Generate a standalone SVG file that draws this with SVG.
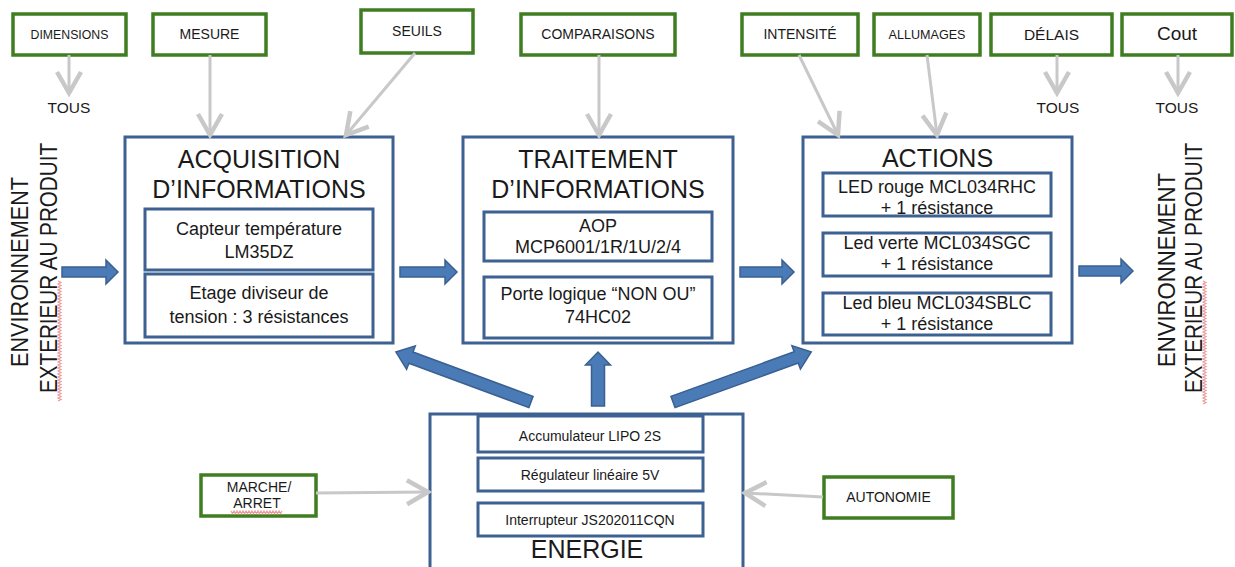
<svg xmlns="http://www.w3.org/2000/svg" width="1235" height="567" viewBox="0 0 1235 567">
  <style>
    text { font-family: "Liberation Sans", Arial, sans-serif; fill: #1a1a1a; }
    .c { text-anchor: middle; }
    .green { fill: #ffffff; stroke: #3f7d20; stroke-width: 3.5; }
    .block { fill: #ffffff; stroke: #3d6191; stroke-width: 3; }
    .inner { fill: #ffffff; stroke: #3d6191; stroke-width: 3; }
    .gray { stroke: #c8c8c8; stroke-width: 3; fill: none; marker-end: url(#chev); }
    .fat { fill: #4a7bb6; stroke: #3a6092; stroke-width: 1.5; }
    .title { font-size: 25px; }
    .t18 { font-size: 18px; }
    .t14 { font-size: 14px; }
    .t12 { font-size: 12.3px; }
    .side { font-size: 23px; }
    .wavy { fill: none; stroke: #ec9a9a; stroke-width: 1.2; }
  </style>
  <defs>
    <marker id="chev" markerUnits="userSpaceOnUse" markerWidth="30" markerHeight="30" viewBox="-16 -10 20 20" refX="0" refY="0" orient="auto">
      <path d="M-14,-8 L0,0 L-14,8" fill="none" stroke="#c8c8c8" stroke-width="3"/>
    </marker>
  </defs>

  <rect width="1235" height="567" fill="#ffffff"/>

  <!-- side labels -->
  <g id="env-left">
    <text class="side c" transform="translate(28,272) rotate(-90)" textLength="190" lengthAdjust="spacingAndGlyphs">ENVIRONNEMENT</text>
    <text class="side c" transform="translate(57,268) rotate(-90)" textLength="250" lengthAdjust="spacingAndGlyphs">EXTERIEUR AU PRODUIT</text>
    <path class="wavy" d="M58,281 l3,1.5 l-3,1.5 l3,1.5 l-3,1.5 l3,1.5 l-3,1.5 l3,1.5 l-3,1.5 l3,1.5 l-3,1.5 l3,1.5 l-3,1.5 l3,1.5 l-3,1.5 l3,1.5 l-3,1.5 l3,1.5 l-3,1.5 l3,1.5 l-3,1.5 l3,1.5 l-3,1.5 l3,1.5 l-3,1.5 l3,1.5 l-3,1.5 l3,1.5 l-3,1.5 l3,1.5 l-3,1.5 l3,1.5 l-3,1.5 l3,1.5 l-3,1.5 l3,1.5 l-3,1.5 l3,1.5 l-3,1.5 l3,1.5 l-3,1.5 l3,1.5 l-3,1.5 l3,1.5 l-3,1.5 l3,1.5 l-3,1.5 l3,1.5 l-3,1.5 l3,1.5 l-3,1.5 l3,1.5 l-3,1.5 l3,1.5 l-3,1.5 l3,1.5 l-3,1.5 l3,1.5 l-3,1.5 l3,1.5 l-3,1.5 l3,1.5 l-3,1.5 l3,1.5 l-3,1.5 l3,1.5 l-3,1.5 l3,1.5 l-3,1.5 l3,1.5 l-3,1.5 l3,1.5 l-3,1.5 l3,1.5 l-3,1.5 l3,1.5 l-3,1.5 l3,1.5 l-3,1.5 l3,1.5 l-3,1.5"/>
  </g>
  <g id="env-right">
    <text class="side c" transform="translate(1175,270) rotate(-90)" textLength="194" lengthAdjust="spacingAndGlyphs">ENVIRONNEMENT</text>
    <text class="side c" transform="translate(1202,268) rotate(-90)" textLength="250" lengthAdjust="spacingAndGlyphs">EXTERIEUR AU PRODUIT</text>
    <path class="wavy" d="M1203,281 l3,1.5 l-3,1.5 l3,1.5 l-3,1.5 l3,1.5 l-3,1.5 l3,1.5 l-3,1.5 l3,1.5 l-3,1.5 l3,1.5 l-3,1.5 l3,1.5 l-3,1.5 l3,1.5 l-3,1.5 l3,1.5 l-3,1.5 l3,1.5 l-3,1.5 l3,1.5 l-3,1.5 l3,1.5 l-3,1.5 l3,1.5 l-3,1.5 l3,1.5 l-3,1.5 l3,1.5 l-3,1.5 l3,1.5 l-3,1.5 l3,1.5 l-3,1.5 l3,1.5 l-3,1.5 l3,1.5 l-3,1.5 l3,1.5 l-3,1.5 l3,1.5 l-3,1.5 l3,1.5 l-3,1.5 l3,1.5 l-3,1.5 l3,1.5 l-3,1.5 l3,1.5 l-3,1.5 l3,1.5 l-3,1.5 l3,1.5 l-3,1.5 l3,1.5 l-3,1.5 l3,1.5 l-3,1.5 l3,1.5 l-3,1.5 l3,1.5 l-3,1.5 l3,1.5 l-3,1.5 l3,1.5 l-3,1.5 l3,1.5 l-3,1.5 l3,1.5 l-3,1.5 l3,1.5 l-3,1.5 l3,1.5 l-3,1.5 l3,1.5 l-3,1.5 l3,1.5 l-3,1.5 l3,1.5 l-3,1.5 l3,1.5 l-3,1.5"/>
  </g>

  <!-- criteria boxes -->
  <g id="dimensions">
    <rect class="green" x="13" y="14" width="113" height="41"/>
    <text class="t12 c" x="69.5" y="39">DIMENSIONS</text>
  </g>
  <g id="mesure">
    <rect class="green" x="153" y="14" width="113" height="41"/>
    <text class="t14 c" x="209.5" y="39">MESURE</text>
  </g>
  <g id="seuils">
    <rect class="green" x="361" y="10" width="112" height="43"/>
    <text class="t14 c" x="417" y="36">SEUILS</text>
  </g>
  <g id="comparaisons">
    <rect class="green" x="521" y="14" width="154" height="41"/>
    <text class="t14 c" x="598" y="39">COMPARAISONS</text>
  </g>
  <g id="intensite">
    <rect class="green" x="742" y="14" width="116" height="41"/>
    <text class="t14 c" x="800" y="39">INTENSITÉ</text>
  </g>
  <g id="allumages">
    <rect class="green" x="874" y="14" width="106" height="41"/>
    <text class="c" style="font-size:12.6px" x="927" y="39">ALLUMAGES</text>
  </g>
  <g id="delais">
    <rect class="green" x="991" y="14" width="121" height="41"/>
    <text class="c" style="font-size:15.5px" x="1051.5" y="40">DÉLAIS</text>
  </g>
  <g id="cout">
    <rect class="green" x="1122" y="14" width="110" height="41"/>
    <text class="c" style="font-size:19px" x="1177" y="40">Cout</text>
  </g>
  <g id="tous">
    <text class="c" style="font-size:15.5px" x="69" y="113">TOUS</text>
    <text class="c" style="font-size:15.5px" x="1058" y="113">TOUS</text>
    <text class="c" style="font-size:15.5px" x="1177" y="113">TOUS</text>
  </g>
  <g id="marche-arret">
    <rect class="green" x="201" y="475" width="115" height="41"/>
    <text class="t14 c" x="259" y="492">MARCHE/</text>
    <text class="t14 c" x="257" y="508">ARRET</text>
    <path class="wavy" d="M231,511 l1.5,2.5 l1.5,-2.5 l1.5,2.5 l1.5,-2.5 l1.5,2.5 l1.5,-2.5 l1.5,2.5 l1.5,-2.5 l1.5,2.5 l1.5,-2.5 l1.5,2.5 l1.5,-2.5 l1.5,2.5 l1.5,-2.5 l1.5,2.5 l1.5,-2.5 l1.5,2.5 l1.5,-2.5 l1.5,2.5 l1.5,-2.5 l1.5,2.5 l1.5,-2.5 l1.5,2.5 l1.5,-2.5 l1.5,2.5 l1.5,-2.5 l1.5,2.5 l1.5,-2.5 l1.5,2.5 l1.5,-2.5 l1.5,2.5 l1.5,-2.5 l1.5,2.5 l1.5,-2.5"/>
  </g>
  <g id="autonomie">
    <rect class="green" x="824" y="477" width="129" height="41"/>
    <text class="t14 c" x="888.5" y="502">AUTONOMIE</text>
  </g>

  <!-- functional blocks -->
  <g id="acquisition">
    <rect class="block" x="125" y="137" width="268" height="206"/>
    <text class="title c" x="259" y="168">ACQUISITION</text>
    <text class="title c" x="259" y="198">D’INFORMATIONS</text>
    <rect class="inner" x="145" y="209" width="228" height="61"/>
    <text class="t18 c" x="259" y="235">Capteur température</text>
    <text class="t18 c" x="259" y="258">LM35DZ</text>
    <rect class="inner" x="145" y="274" width="228" height="63"/>
    <text class="t18 c" x="259" y="299">Etage diviseur de</text>
    <text class="t18 c" x="259" y="323">tension : 3 résistances</text>
  </g>
  <g id="traitement">
    <rect class="block" x="463" y="137" width="270" height="206"/>
    <text class="title c" x="598" y="168">TRAITEMENT</text>
    <text class="title c" x="598" y="198">D’INFORMATIONS</text>
    <rect class="inner" x="484" y="212" width="228" height="49"/>
    <text class="t18 c" x="598" y="232">AOP</text>
    <text class="t18 c" x="598" y="253">MCP6001/1R/1U/2/4</text>
    <rect class="inner" x="484" y="277" width="228" height="61"/>
    <text class="t18 c" x="598" y="300">Porte logique “NON OU”</text>
    <text class="t18 c" x="598" y="323">74HC02</text>
  </g>
  <g id="actions">
    <rect class="block" x="803" y="137" width="269" height="206"/>
    <text class="title c" x="937.5" y="167">ACTIONS</text>
    <rect class="inner" x="823" y="173" width="228" height="43"/>
    <text class="t18 c" x="937" y="193">LED rouge MCL034RHC</text>
    <text class="t18 c" x="937" y="214">+ 1 résistance</text>
    <rect class="inner" x="823" y="233" width="228" height="43"/>
    <text class="t18 c" x="937" y="249">Led verte MCL034SGC</text>
    <text class="t18 c" x="937" y="270">+ 1 résistance</text>
    <rect class="inner" x="823" y="293" width="228" height="42"/>
    <text class="t18 c" x="937" y="309">Led bleu MCL034SBLC</text>
    <text class="t18 c" x="937" y="330">+ 1 résistance</text>
  </g>
  <g id="energie">
    <rect class="block" x="430" y="414" width="313" height="170"/>
    <rect class="inner" x="478" y="416" width="225" height="36"/>
    <text class="t14 c" x="590" y="441">Accumulateur LIPO 2S</text>
    <rect class="inner" x="478" y="458" width="225" height="33"/>
    <text class="t14 c" x="590" y="480">Régulateur linéaire 5V</text>
    <rect class="inner" x="478" y="503" width="225" height="33"/>
    <text class="t14 c" x="590" y="525">Interrupteur JS202011CQN</text>
    <text class="title c" x="587" y="558">ENERGIE</text>
  </g>

  <!-- connectors -->
  <g id="connectors">
    <line class="gray" x1="69" y1="55" x2="69" y2="93"/>
    <line class="gray" x1="210" y1="55" x2="210" y2="135"/>
    <line class="gray" x1="415" y1="53" x2="346" y2="135"/>
    <line class="gray" x1="599" y1="55" x2="599" y2="135"/>
    <line class="gray" x1="799" y1="55" x2="838" y2="135"/>
    <line class="gray" x1="927" y1="55" x2="937" y2="135"/>
    <line class="gray" x1="1057" y1="55" x2="1057" y2="93"/>
    <line class="gray" x1="1178" y1="55" x2="1178" y2="93"/>
    <line class="gray" x1="316" y1="493" x2="428" y2="492"/>
    <line class="gray" x1="823" y1="497" x2="745" y2="493"/>

    <!-- flow arrows -->
    <path class="fat" transform="translate(62,272)" d="M0,-5 H44 V-12 L56,0 L44,12 V5 H0 Z"/>
    <path class="fat" transform="translate(400,272)" d="M0,-5 H45 V-12 L57,0 L45,12 V5 H0 Z"/>
    <path class="fat" transform="translate(740,272)" d="M0,-5 H42 V-12 L54,0 L42,12 V5 H0 Z"/>
    <path class="fat" transform="translate(1079,271)" d="M0,-5 H42 V-12 L54,0 L42,12 V5 H0 Z"/>

    <!-- energy supply arrows -->
    <path class="fat" transform="translate(598,406) rotate(-90)" d="M0,-6.5 H41 V-12.5 L54,0 L41,12.5 V6.5 H0 Z"/>
    <path class="fat" transform="translate(531,402) rotate(-159.7)" d="M0,-6 H128 V-12.5 L144,0 L128,12.5 V6 H0 Z"/>
    <path class="fat" transform="translate(673,402) rotate(-19.9)" d="M0,-6 H131 V-12.5 L147,0 L131,12.5 V6 H0 Z"/>
  </g>
</svg>
